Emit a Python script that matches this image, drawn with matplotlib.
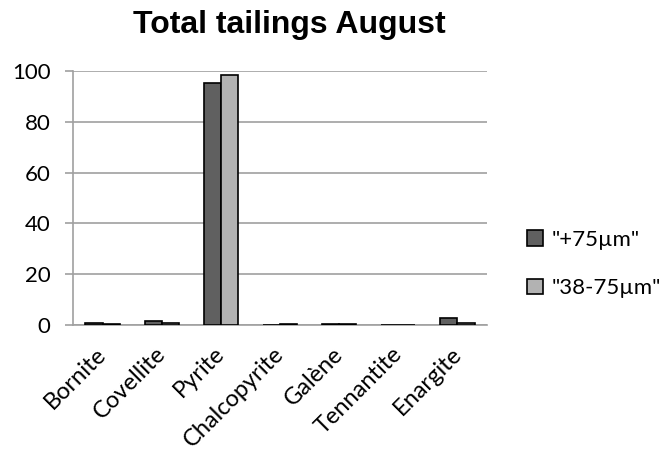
import matplotlib
matplotlib.use("Agg")
import matplotlib.pyplot as plt
import matplotlib.transforms as mtransforms
import numpy as np

minerals = ["Bornite", "Covellite", "Pyrite", "Chalcopyrite", "Galène", "Tennantite", "Enargite"]
coarse = [0.7, 1.7, 95.3, 0.0, 0.2, 0.0, 2.6]     # "+75µm"
fine = [0.3, 0.9, 98.4, 0.2, 0.2, 0.0, 0.7]       # "38-75µm"
yticks = [0, 20, 40, 60, 80, 100]

plt.rcParams["font.family"] = ["Lato", "DejaVu Sans"]

fig = plt.figure(figsize=(6.69, 4.55), dpi=100)
ax = fig.add_axes([0.109, 0.2857, 0.619, 0.5583])

x = np.arange(len(minerals))
w = 0.29
ax.bar(x - w / 2, coarse, w, color="#606060", edgecolor="black", linewidth=1.2, label='"+75µm"', zorder=3)
ax.bar(x + w / 2, fine, w, color="#b2b2b2", edgecolor="black", linewidth=1.2, label='"38-75µm"', zorder=3)

ax.set_xlim(-0.5, len(minerals) - 0.5)
ax.set_ylim(0, 100)
ax.set_yticks(yticks)
ax.set_xticks(x)
ax.set_xticklabels(minerals, rotation=45, ha="right", va="top", rotation_mode="anchor")
ax.yaxis.grid(True, color="#a0a0a0", linewidth=1.2, zorder=0)
ax.tick_params(axis="y", length=6, width=1.2, color="#a0a0a0", labelsize=16, pad=10)
ax.tick_params(axis="x", length=0, labelsize=17, pad=13)

# nudge the slanted category labels to the left (in pixels)
shift = mtransforms.ScaledTranslation(-7 / 100, 0, fig.dpi_scale_trans)
for lbl in ax.get_xticklabels():
    lbl.set_transform(lbl.get_transform() + shift)

for s in ("top", "right"):
    ax.spines[s].set_visible(False)
for s in ("left", "bottom"):
    ax.spines[s].set_color("#a0a0a0")
    ax.spines[s].set_linewidth(1.2)

fig.text(0.432, 0.945, "Total tailings August", ha="center", va="center",
         fontsize=23, fontweight="bold", family="Liberation Sans")

ax.legend(loc="center left", bbox_to_anchor=(1.097, 0.24), frameon=False, fontsize=16,
          borderaxespad=0, borderpad=0,
          handlelength=0.7, handleheight=0.7, handletextpad=0.4, labelspacing=1.3)

fig.savefig("out.png", dpi=100)
